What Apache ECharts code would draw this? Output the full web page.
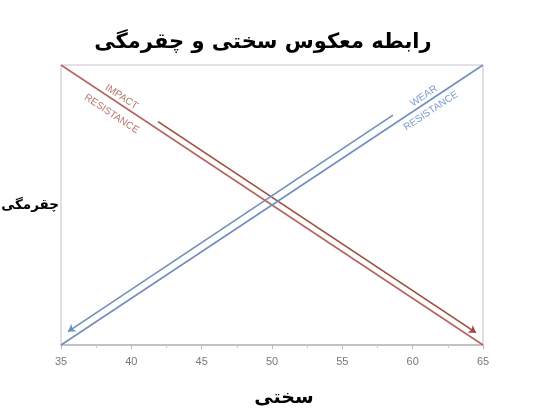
<!DOCTYPE html>
<html>
<head>
<meta charset="utf-8">
<script src="https://cdn.jsdelivr.net/npm/echarts@6/dist/echarts.min.js"></script>
<style>html,body{margin:0;padding:0;background:#fff}#c{width:550px;height:419px}</style>
</head>
<body>
<div id="c"></div>
<script>
// ---- data ----
const titleText = 'رابطه معکوس سختی و چقرمگی';
const xName = 'سختی';
const yName = 'چقرمگی';
const xMin = 35, xMax = 65, xStep = 5;
const impactLine = [[35, 100], [65, 0]];
const wearLine = [[35, 0], [65, 100]];
const impactArrow = [[41.9, 79.8], [64.5, 4.4]];
const wearArrow = [[58.6, 82.1], [35.5, 4.8]];
const impactLabels = [['IMPACT', 39.3, 88.6], ['RESISTANCE', 38.6, 82.5]];
const wearLabels = [['WEAR', 60.8, 88.9], ['RESISTANCE', 61.3, 83.6]];

const RED = '#b5665d', RED_DARK = '#9e4a42', BLUE = '#6f8fbd';
const FONT = '"DejaVu Sans", sans-serif';

const chart = echarts.init(document.getElementById('c'));
chart.setOption({
  backgroundColor: '#fff',
  animation: false,
  title: {
    text: titleText, left: 258, top: 27, textAlign: 'center',
    textStyle: { fontFamily: FONT, fontSize: 21, fontWeight: 'bold', color: '#000' }
  },
  grid: { left: 61, right: 67, top: 65, bottom: 74, containLabel: false, outerBoundsMode: 'none',
    show: true, borderColor: '#c4c4cc', borderWidth: 1 },
  xAxis: {
    type: 'value', min: xMin, max: xMax, interval: xStep,
    name: xName, nameLocation: 'middle', nameGap: 44,
    nameTextStyle: { fontFamily: FONT, fontSize: 19, fontWeight: 'bold', color: '#000', padding: [0, 0, 0, 24] },
    axisLine: { lineStyle: { color: '#b8b8bc', width: 1.5 } },
    axisTick: { show: true, length: 4, lineStyle: { color: '#b8b8bc' } },
    minorTick: { show: true, splitNumber: 2, length: 3, lineStyle: { color: '#c8c8cc' } },
    axisLabel: { color: '#777', fontSize: 11, margin: 11, fontFamily: '"Liberation Sans", sans-serif' },
    splitLine: { show: false }
  },
  yAxis: {
    type: 'value', min: 0, max: 100,
    name: yName, nameLocation: 'middle', nameRotate: 0, nameGap: 2,
    nameTextStyle: { fontFamily: FONT, fontSize: 13.5, fontWeight: 'bold', color: '#000', align: 'right' },
    axisLine: { show: false }, axisTick: { show: false }, axisLabel: { show: false }, splitLine: { show: false }
  },
  series: [
    { type: 'line', data: impactLine, symbol: 'none', lineStyle: { color: RED, width: 1.6 }, silent: true },
    { type: 'line', data: wearLine, symbol: 'none', lineStyle: { color: BLUE, width: 1.6 }, silent: true },
    { type: 'lines', coordinateSystem: 'cartesian2d', symbol: ['none', 'arrow'], symbolSize: [0, 7],
      data: [{ coords: impactArrow }], lineStyle: { color: RED_DARK, width: 1.6, opacity: 1 }, silent: true },
    { type: 'lines', coordinateSystem: 'cartesian2d', symbol: ['none', 'arrow'], symbolSize: [0, 7],
      data: [{ coords: wearArrow }], lineStyle: { color: BLUE, width: 1.6, opacity: 1 }, silent: true }
  ]
});

function angleOf(line) {
  const a = chart.convertToPixel({ gridIndex: 0 }, line[0]);
  const b = chart.convertToPixel({ gridIndex: 0 }, line[1]);
  return -Math.atan2(b[1] - a[1], b[0] - a[0]);
}
function makeLabels(list, line, color) {
  const rot = angleOf(line);
  return list.map(([t, x, y]) => {
    const p = chart.convertToPixel({ gridIndex: 0 }, [x, y]);
    return {
      type: 'text', x: p[0], y: p[1], rotation: rot, silent: true,
      style: { text: t, align: 'center', verticalAlign: 'middle', fill: color,
        font: '10px "Liberation Sans", sans-serif' }
    };
  });
}
chart.setOption({
  graphic: [...makeLabels(impactLabels, impactLine, '#b8746b'), ...makeLabels(wearLabels, wearLine, '#7c9aca')]
});
</script>
</body>
</html>
